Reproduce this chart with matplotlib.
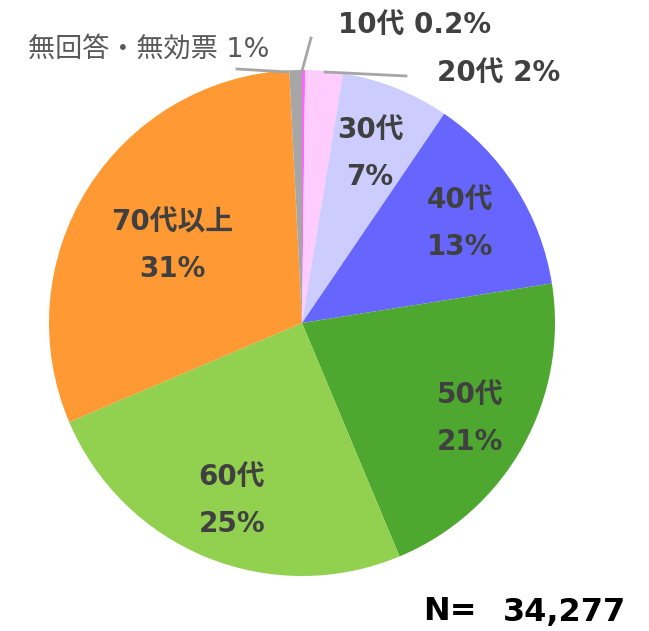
import matplotlib.pyplot as plt

# Latin glyphs from DejaVu (Verdana-like), CJK falls back to Noto
plt.rcParams['font.family'] = ['DejaVu Sans', 'Noto Sans CJK JP']

# age groups, clockwise from the top
labels = ['10代', '20代', '30代', '40代', '50代', '60代', '70代以上', '無回答・無効票']
shares = [0.2, 2.4, 6.9, 13.0, 21.2, 24.9, 30.6, 0.8]
pct_text = ['0.2%', '2%', '7%', '13%', '21%', '25%', '31%', '1%']
colors = ['#ff66ff', '#ffccff', '#ccccff', '#6666ff', '#4ea72e', '#92d050', '#ff9933', '#a6a6a6']
n_total = '34,277'

fig = plt.figure(figsize=(6.49, 6.31), dpi=100)
ax = fig.add_axes([0, 0, 1, 1])

H = 631
cx, cy, r = 302, H - 323, 253
ax.pie(shares, colors=colors, startangle=90, counterclock=False,
       center=(cx, cy), radius=r, wedgeprops=dict(linewidth=0))
ax.set_xlim(0, 649)
ax.set_ylim(0, 631)
ax.set_aspect('equal')
ax.axis('off')

dark = '#404040'
# labels inside the slices
inner = {2: (370, 130), 3: (460, 200), 4: (470, 395), 5: (232, 477), 6: (172, 222)}
for i, (x, y) in inner.items():
    ax.text(x, H - y, labels[i], ha='center', va='center', fontsize=20,
            fontweight='bold', color=dark)
    ax.text(x, H - y - 47, pct_text[i], ha='center', va='center', fontsize=20,
            fontweight='bold', color=dark)

# outside labels with leader lines
line_c = '#a6a6a6'
ax.plot([302, 311], [H - 71, H - 38], color=line_c, lw=2)
ax.plot([325, 406], [H - 72, H - 76], color=line_c, lw=2)
ax.plot([237, 288], [H - 69, H - 72], color=line_c, lw=2)

ax.text(338, H - 25, labels[0] + ' ' + pct_text[0], ha='left', va='center',
        fontsize=20, fontweight='bold', color=dark)
ax.text(437, H - 73, labels[1] + ' ' + pct_text[1], ha='left', va='center',
        fontsize=20, fontweight='bold', color=dark)
ax.text(28, H - 50, labels[7] + ' ' + pct_text[7], ha='left', va='center',
        fontsize=19.5, color='#595959')

ax.text(423, H - 612, 'N=', ha='left', va='center', fontsize=23,
        fontweight='bold', color='black')
ax.text(503, H - 612, n_total, ha='left', va='center', fontsize=23,
        fontweight='bold', color='black')

fig.savefig('out.png', dpi=100)
